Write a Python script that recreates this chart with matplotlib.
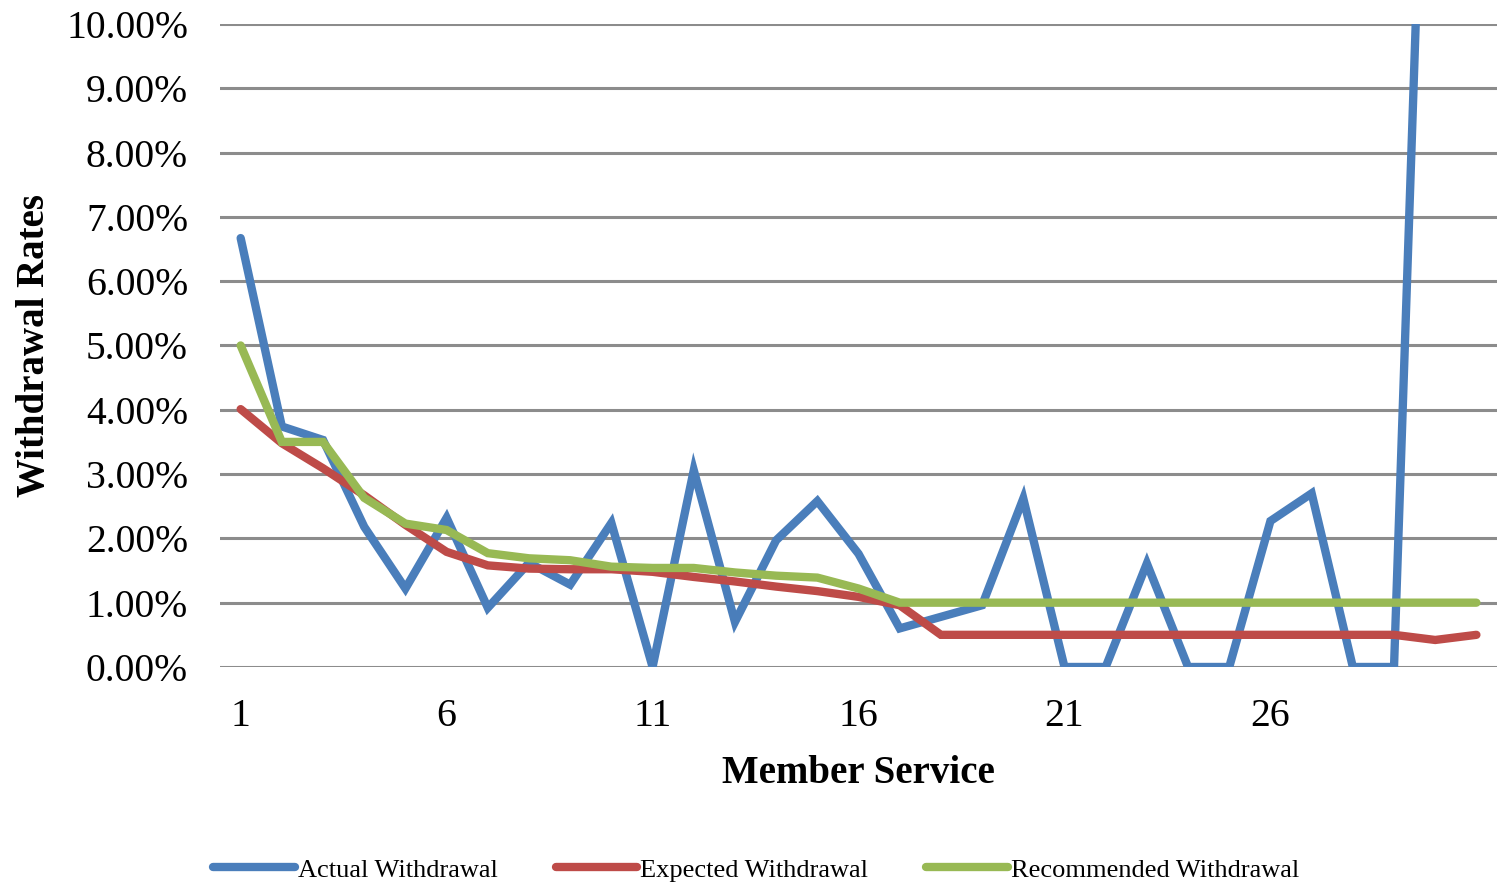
import matplotlib
matplotlib.use("Agg")
import matplotlib.pyplot as plt
import numpy as np

# member service years 1..31
service = np.arange(1, 32)

# withdrawal rates in percent
actual = [6.67, 3.74, 3.53, 2.18, 1.22, 2.32, 0.92, 1.62, 1.28, 2.24,
          0.0, 3.06, 0.70, 1.97, 2.58, 1.76, 0.60, 0.78, 0.96, 2.62,
          0.0, 0.0, 1.61, 0.0, 0.0, 2.27, 2.70, 0.0, 0.0, 19.0, np.nan]
expected = [4.01, 3.48, 3.09, 2.67, 2.21, 1.79, 1.58, 1.53, 1.52, 1.52,
            1.48, 1.40, 1.33, 1.25, 1.18, 1.09, 0.96, 0.50, 0.50, 0.50,
            0.50, 0.50, 0.50, 0.50, 0.50, 0.50, 0.50, 0.50, 0.50, 0.42, 0.50]
recommended = [5.00, 3.50, 3.50, 2.63, 2.23, 2.13, 1.77, 1.69, 1.66, 1.56,
               1.54, 1.54, 1.47, 1.42, 1.39, 1.22, 1.00, 1.00, 1.00, 1.00,
               1.00, 1.00, 1.00, 1.00, 1.00, 1.00, 1.00, 1.00, 1.00, 1.00, 1.00]

series_names = ["Actual Withdrawal", "Expected Withdrawal", "Recommended Withdrawal"]
colors = ["#4A7EBB", "#BE4B48", "#98B954"]

plt.rcParams['font.family'] = ['Liberation Serif', 'DejaVu Serif']

fig = plt.figure(figsize=(14.97, 8.84), dpi=100)
ax = fig.add_axes([0.147, 0.2455, 0.853, 0.7274])

# data are percentages, axis shows fractions
for vals, name, c in zip([actual, expected, recommended], series_names, colors):
    ax.plot(service, np.array(vals) / 100.0, color=c, lw=6, label=name,
            solid_joinstyle='miter', solid_capstyle='round', zorder=3)

ax.set_xlim(0.5, 31.5)
ax.set_ylim(0, 0.10)
ax.set_yticks(np.arange(0, 0.101, 0.01))
ax.set_yticklabels(["%.2f%%" % (v * 100) for v in np.arange(0, 0.101, 0.01)])
ax.set_xticks([1, 6, 11, 16, 21, 26])

# gridlines only, no frame
ax.grid(axis='y', color='#8C8C8C', lw=2.2, zorder=1)
for s in ax.spines.values():
    s.set_visible(False)
ax.tick_params(axis='both', length=0, labelsize=28.5, colors='black')
ax.tick_params(axis='y', pad=23)
ax.tick_params(axis='x', pad=22)

ax.set_xlabel("Member Service", fontsize=28, fontweight='bold')
ax.set_ylabel("Withdrawal Rates", fontsize=28, fontweight='bold')
ax.xaxis.set_label_coords(0.5, -0.137)
ax.yaxis.set_label_coords(-0.131, 0.5)

fig.legend(loc='center', bbox_to_anchor=(0.505, 0.016), ncol=3, frameon=False,
           fontsize=19, handlelength=3.1, handletextpad=0.1, columnspacing=2.2)

fig.savefig("out.png", dpi=100)
